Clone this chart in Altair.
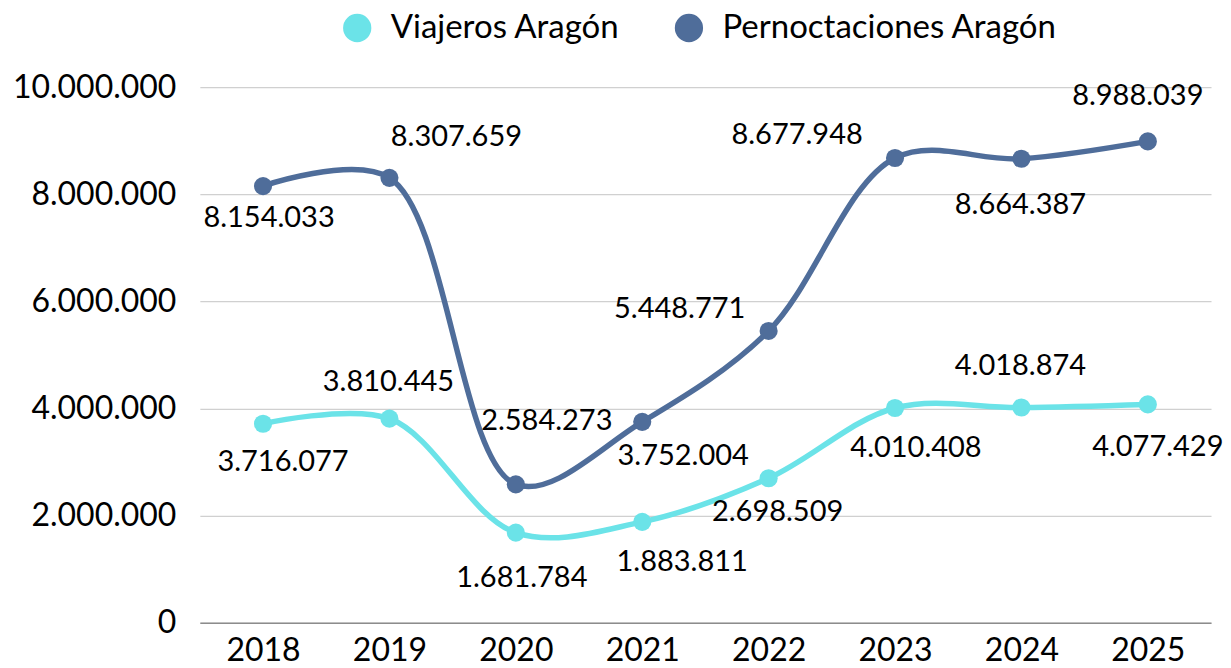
import altair as alt
import pandas as pd

years = ["2018", "2019", "2020", "2021", "2022", "2023", "2024", "2025"]
viajeros = [3716077, 3810445, 1681784, 1883811, 2698509, 4010408, 4018874, 4077429]
pernoctaciones = [8154033, 8307659, 2584273, 3752004, 5448771, 8677948, 8664387, 8988039]
series_names = ["Viajeros Aragón", "Pernoctaciones Aragón"]
series_colors = ["#6BE3E8", "#4F6D9A"]

# label offsets (pixels) relative to each point: styling only
viaj_dx = [20, -1, 6, 40, 9, 21, -1, 10]
viaj_dy = [38, -37, 45, 40, 34, 40, -42, 43]
pern_dx = [6, 67, 31, 41, -89, -98, -1, -10]
pern_dy = [32, -41, -63, 34, -22, -23, 46, -45]


def fmt(v):
    return f"{v:,}".replace(",", ".")


rows = []
for i, y in enumerate(years):
    rows.append({"year": y, "value": viajeros[i], "serie": series_names[0],
                 "label": fmt(viajeros[i]), "dx": viaj_dx[i], "dy": viaj_dy[i], "order": i})
    rows.append({"year": y, "value": pernoctaciones[i], "serie": series_names[1],
                 "label": fmt(pernoctaciones[i]), "dx": pern_dx[i], "dy": pern_dy[i], "order": i})
df = pd.DataFrame(rows)

FONT = "Lato"

x = alt.X("year:N", sort=years, title=None,
          scale=alt.Scale(type="point", padding=0.5),
          axis=alt.Axis(labelAngle=0, labelFont=FONT, labelFontSize=32, labelColor="#000000",
                        labelPadding=13, ticks=False, domain=True, domainColor="#8C8C8C",
                        domainWidth=1.5, grid=False))
y = alt.Y("value:Q", title=None,
          scale=alt.Scale(domain=[0, 10000000], nice=False, zero=True),
          axis=alt.Axis(values=[0, 2000000, 4000000, 6000000, 8000000, 10000000],
                        labelExpr="replace(format(datum.value, ','), regexp(',', 'g'), '.')",
                        labelFont=FONT, labelFontSize=32, labelColor="#000000",
                        labelPadding=24, ticks=False, domain=False, grid=True,
                        gridColor="#D0D0D0", gridWidth=1.2))

base = alt.Chart(df)

lines = base.mark_line(interpolate="catmull-rom", strokeWidth=5.5).encode(
    x=x, y=y,
    stroke=alt.Stroke("serie:N", scale=alt.Scale(domain=series_names, range=series_colors),
                      legend=None),
    detail="serie:N",
    order="order:Q",
)

points = base.mark_circle(size=330, opacity=1).encode(
    x=x, y=y,
    color=alt.Color("serie:N", scale=alt.Scale(domain=series_names, range=series_colors),
                    sort=series_names, title=None,
                    legend=alt.Legend(orient="none", legendX=141, legendY=-76,
                                      direction="horizontal", symbolType="circle",
                                      symbolSize=800, symbolOpacity=1,
                                      labelFont=FONT, labelFontSize=33, labelColor="#000000",
                                      labelOffset=17, columnPadding=52, labelLimit=600)),
)

labels = base.mark_text(font=FONT, fontSize=29, color="#000000", align="center",
                        baseline="middle", dx=alt.expr("datum.dx"),
                        dy=alt.expr("datum.dy")).encode(
    x=x, y=y,
    text="label:N",
)

chart = alt.layer(lines, points, labels).resolve_scale(color="independent").properties(
    width=1012, height=536,
    background="#FFFFFF",
    autosize=alt.AutoSizeParams(type="none"),
    padding={"left": 192, "top": 79, "right": 12, "bottom": 45},
).configure_view(stroke=None)

chart.save("out.html", embed_options={"renderer": "svg", "actions": False})
